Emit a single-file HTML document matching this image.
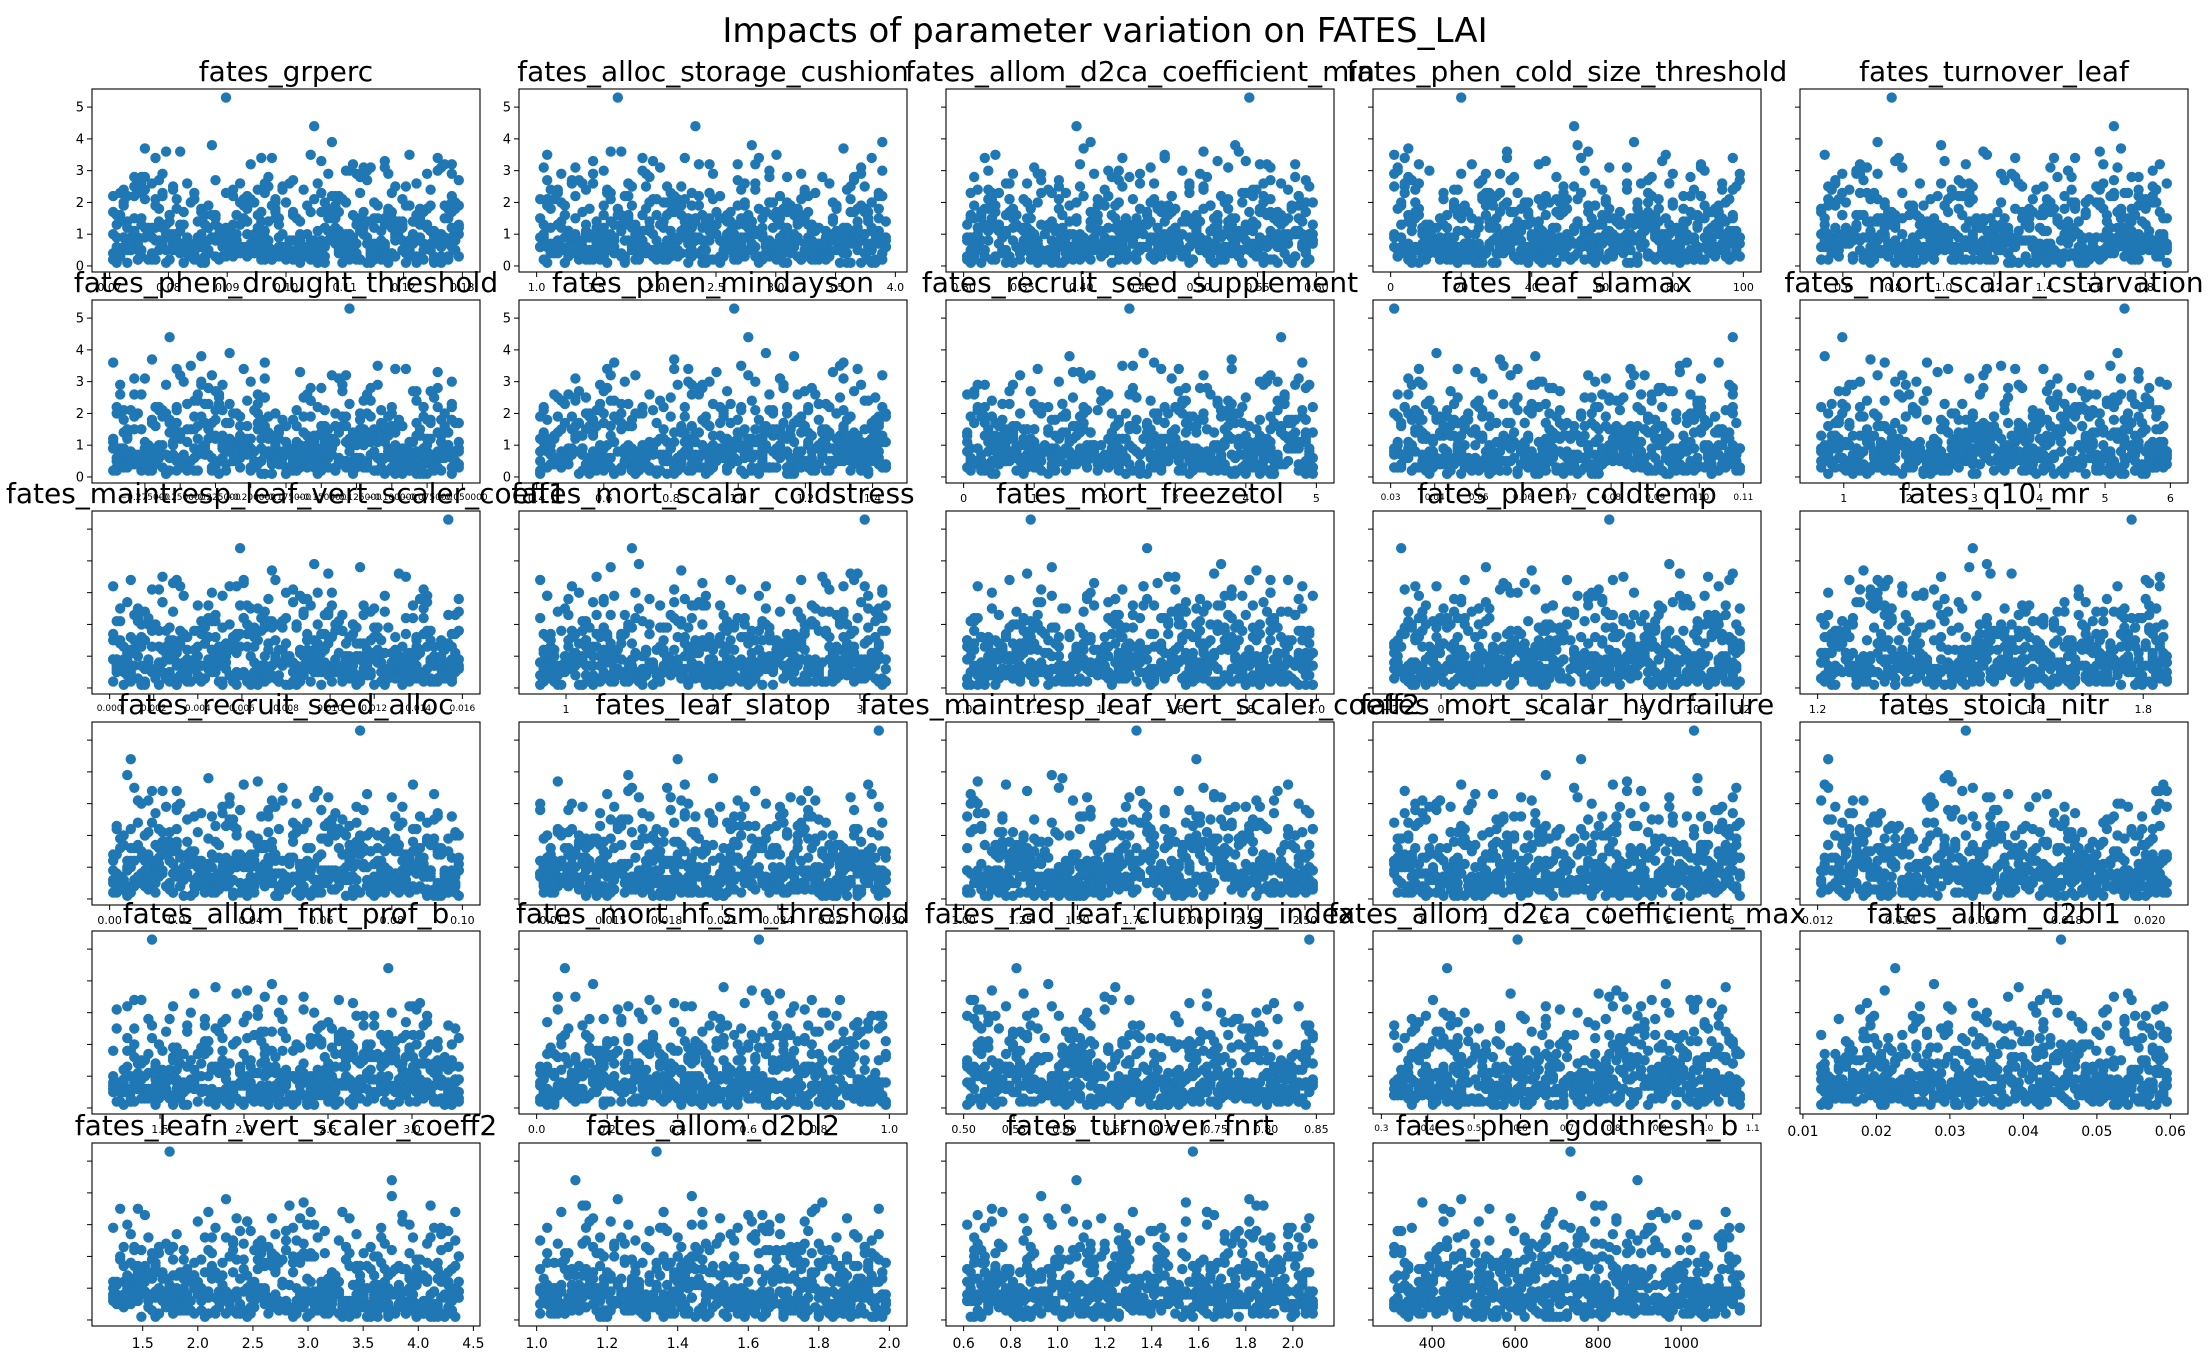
<!DOCTYPE html>
<html><head><meta charset="utf-8">
<style>
html,body{margin:0;padding:0;background:#fff;}
svg{display:block;font-family:"DejaVu Sans","Liberation Sans",sans-serif;}
</style></head>
<body>
<svg id="fig" width="2211" height="1355" viewBox="0 0 2211 1355" xmlns="http://www.w3.org/2000/svg">
<rect width="2211" height="1355" fill="#fff"/>
<text x="1105" y="42" font-size="34" text-anchor="middle" fill="#000">Impacts of parameter variation on FATES_LAI</text>
</svg>
<script>
// Shared LAI output values (y) for the ensemble members
const lai = [0.2,1.4,0.6,2.3,0.1,0.9,3.1,0.4,1.7,0.3,2.6,0.8,0.5,1.2,3.6,0.2,0.7,1.9,0.4,2.9,
0.1,1.1,0.6,0.3,2.1,1.5,0.5,3.4,0.9,0.2,1.8,0.7,0.4,2.5,0.3,1.3,0.6,3.9,0.8,0.2,
1.6,0.5,2.2,0.1,0.9,1.0,0.3,2.8,0.7,1.4,0.4,0.2,3.2,0.6,1.2,0.8,2.0,0.3,0.5,1.7,
5.3,0.2,1.1,0.7,2.4,0.4,0.9,3.0,0.1,1.5,0.6,0.3,2.7,1.0,0.5,0.8,1.9,0.2,3.5,0.4,
1.3,0.7,0.3,2.2,0.6,1.6,0.1,0.9,3.3,0.5,1.2,0.2,2.0,0.8,0.4,1.4,2.6,0.3,0.7,1.0,
4.4,0.5,1.8,0.2,0.6,2.3,0.9,0.3,1.1,3.7,0.4,0.7,1.5,0.2,2.9,0.5,0.8,1.3,0.1,2.1,
0.6,0.3,1.7,0.9,3.1,0.4,1.0,0.2,2.5,0.7,1.2,0.5,0.3,1.9,0.8,3.8,0.2,1.4,0.6,2.4,
0.4,1.1,0.1,0.7,2.7,0.3,1.6,0.9,0.5,3.4,0.2,1.3,0.8,2.1,0.4,0.6,1.0,3.0,0.3,1.8,
0.7,0.2,2.3,0.5,1.2,0.9,0.1,2.8,0.6,1.5,0.4,3.6,0.3,1.1,0.8,2.0,0.5,0.2,1.7,0.7,
1.4,0.3,2.6,0.6,0.9,0.2,3.2,1.0,0.4,1.3,0.5,2.2,0.8,0.1,1.6,0.3,2.9,0.7,1.2,0.4];
// Additional ensemble LAI values (mid-range members)
const laiB = [1.2,0.6,1.8,0.9,1.5,0.4,2.1,1.0,0.7,1.6,1.3,0.5,2.4,0.8,1.1,1.9,0.6,1.4,2.2,0.9,
0.5,1.7,1.2,0.8,2.0,1.0,0.6,1.5,2.6,0.7,1.3,0.9,1.8,0.4,1.1,2.3,0.8,1.6,1.0,0.5,
1.4,2.0,0.7,1.2,0.9,1.7,0.6,2.5,1.1,0.8,1.5,0.4,1.9,1.3,0.7,2.1,1.0,0.6,1.6,0.9,
1.2,0.5,2.2,0.8,1.4,1.0,0.7,1.8,2.7,0.6,1.1,1.5,0.9,2.0,0.5,1.3,0.8,1.7,1.0,2.4,
0.7,1.2,0.6,1.9,1.4,0.9,2.1,0.5,1.1,1.6,0.8,2.3,1.0,0.6,1.5,1.3,0.7,1.8,0.9,2.0,
1.1,0.5,1.7,1.4,0.8,2.6,1.0,0.6,1.2,1.9,0.9,0.7,1.5,2.2,0.5,1.3,1.0,1.8,0.8,1.6,
0.6,2.0,1.1,0.9,1.4,0.7,2.4,1.2,0.5,1.7,1.0,0.8,2.1,1.3,0.6,1.5,0.9,1.9,1.1,0.7,
1.6,0.5,2.3,1.0,0.8,1.4,1.2,0.6,1.8,2.5,0.9,1.1,0.7,1.5,1.3,0.5,2.0,1.0,0.8,1.7,
1.2,0.6,1.9,0.9,1.4,2.2,0.7,1.1,1.6,0.5,1.0,2.8,0.8,1.3,0.6,1.8,1.5,0.9,2.1,0.7,
1.1,1.4,0.5,2.0,1.0,0.8,1.6,1.2,0.6,2.4,0.9,1.3,0.7,1.7,1.0,0.5,1.9,1.2,0.8,1.5];
// Normalized parameter sample positions (0..1)
const samples = [0.12,0.87,0.45,0.03,0.66,0.31,0.94,0.58,0.21,0.77,0.09,0.52,0.38,0.83,0.16,0.71,0.27,0.99,0.44,0.62,
0.05,0.91,0.34,0.57,0.19,0.80,0.48,0.13,0.69,0.26,0.96,0.41,0.74,0.07,0.55,0.88,0.22,0.63,0.36,0.01,
0.79,0.47,0.15,0.92,0.29,0.68,0.53,0.10,0.84,0.39,0.60,0.24,0.97,0.43,0.72,0.06,0.50,0.86,0.18,0.65,
0.33,0.89,0.11,0.76,0.42,0.59,0.25,0.93,0.02,0.70,0.37,0.81,0.14,0.54,0.98,0.30,0.64,0.08,0.85,0.46,
0.20,0.73,0.56,0.35,0.90,0.17,0.61,0.04,0.78,0.49,0.28,0.95,0.40,0.67,0.12,0.82,0.51,0.23,0.75,0.32,
0.58,0.06,0.88,0.44,0.19,0.71,0.97,0.27,0.63,0.10,0.84,0.36,0.53,0.92,0.15,0.68,0.41,0.02,0.79,0.47,
0.26,0.94,0.60,0.08,0.74,0.33,0.86,0.50,0.18,0.66,0.99,0.39,0.55,0.13,0.81,0.29,0.70,0.45,0.04,0.91,
0.37,0.62,0.21,0.77,0.52,0.09,0.87,0.31,0.69,0.43,0.96,0.16,0.57,0.83,0.24,0.48,0.01,0.73,0.35,0.90,
0.64,0.11,0.80,0.42,0.28,0.93,0.54,0.07,0.76,0.38,0.85,0.20,0.61,0.98,0.32,0.67,0.14,0.46,0.89,0.25,
0.72,0.03,0.59,0.34,0.82,0.17,0.95,0.49,0.22,0.78,0.40,0.65,0.05,0.87,0.30,0.56,0.97,0.19,0.75,0.44];
// Panel parameter names
const params = ["fates_grperc","fates_alloc_storage_cushion","fates_allom_d2ca_coefficient_min","fates_phen_cold_size_threshold","fates_turnover_leaf",
"fates_phen_drought_threshold","fates_phen_mindayson","fates_recruit_seed_supplement","fates_leaf_slamax","fates_mort_scalar_cstarvation",
"fates_maintresp_leaf_vert_scaler_coeff1","fates_mort_scalar_coldstress","fates_mort_freezetol","fates_phen_coldtemp","fates_q10_mr",
"fates_recruit_seed_alloc","fates_leaf_slatop","fates_maintresp_leaf_vert_scaler_coeff2","fates_mort_scalar_hydrfailure","fates_stoich_nitr",
"fates_allom_fnrt_prof_b","fates_mort_hf_sm_threshold","fates_rad_leaf_clumping_index","fates_allom_d2ca_coefficient_max","fates_allom_d2bl1",
"fates_leafn_vert_scaler_coeff2","fates_allom_d2bl2","fates_turnover_fnrt","fates_phen_gddthresh_b"];
// Parameter ranges (min, max)
const paramMin = [0.07,1.0,0.3,0,0.5,-0.3,0.4,0,0.03,0.6,0.0,0.8,1.0,-2,1.2,0.0,0.011,1.0,0.5,0.012,1.2,0.0,0.5,0.32,0.012,1.2,1.0,0.6,300];
const paramMax = [0.13,3.95,0.6,100,1.9,-0.05,1.45,5,0.11,6,0.016,3.2,2.0,12,1.85,0.1,0.030,2.55,6.2,0.0205,3.3,1.0,0.85,1.08,0.06,4.4,2.0,2.1,1150];
// X tick values
const xTicks = [
[0.07,0.08,0.09,0.10,0.11,0.12,0.13],[1.0,1.5,2.0,2.5,3.0,3.5,4.0],[0.30,0.35,0.40,0.45,0.50,0.55,0.60],[0,20,40,60,80,100],[0.6,0.8,1.0,1.2,1.4,1.6,1.8],
[-0.275,-0.250,-0.225,-0.200,-0.175,-0.150,-0.125,-0.100,-0.075,-0.050],[0.4,0.6,0.8,1.0,1.2,1.4],[0,1,2,3,4,5],[0.03,0.04,0.05,0.06,0.07,0.08,0.09,0.10,0.11],[1,2,3,4,5,6],
[0.000,0.002,0.004,0.006,0.008,0.010,0.012,0.014,0.016],[1,2,3],[1.0,1.2,1.4,1.6,1.8,2.0],[-2,0,2,4,6,8,10,12],[1.2,1.4,1.6,1.8],
[0.00,0.02,0.04,0.06,0.08,0.10],[0.012,0.015,0.018,0.021,0.024,0.027,0.030],[1.00,1.25,1.50,1.75,2.00,2.25,2.50],[1,2,3,4,5,6],[0.012,0.014,0.016,0.018,0.020],
[1.5,2.0,2.5,3.0],[0.0,0.2,0.4,0.6,0.8,1.0],[0.50,0.55,0.60,0.65,0.70,0.75,0.80,0.85],[0.3,0.4,0.5,0.6,0.7,0.8,0.9,1.0,1.1],[0.01,0.02,0.03,0.04,0.05,0.06],
[1.5,2.0,2.5,3.0,3.5,4.0,4.5],[1.0,1.2,1.4,1.6,1.8,2.0],[0.6,0.8,1.0,1.2,1.4,1.6,1.8,2.0],[400,600,800,1000]];
// X tick label strings
const xTickLabels = [
["0.07","0.08","0.09","0.10","0.11","0.12","0.13"],["1.0","1.5","2.0","2.5","3.0","3.5","4.0"],["0.30","0.35","0.40","0.45","0.50","0.55","0.60"],["0","20","40","60","80","100"],["0.6","0.8","1.0","1.2","1.4","1.6","1.8"],
["−0.275000","−0.250000","−0.225000","−0.200000","−0.175000","−0.150000","−0.125000","−0.100000","−0.075000","−0.050000"],["0.4","0.6","0.8","1.0","1.2","1.4"],["0","1","2","3","4","5"],["0.03","0.04","0.05","0.06","0.07","0.08","0.09","0.10","0.11"],["1","2","3","4","5","6"],
["0.000","0.002","0.004","0.006","0.008","0.010","0.012","0.014","0.016"],["1","2","3"],["1.0","1.2","1.4","1.6","1.8","2.0"],["−2","0","2","4","6","8","10","12"],["1.2","1.4","1.6","1.8"],
["0.00","0.02","0.04","0.06","0.08","0.10"],["0.012","0.015","0.018","0.021","0.024","0.027","0.030"],["1.00","1.25","1.50","1.75","2.00","2.25","2.50"],["1","2","3","4","5","6"],["0.012","0.014","0.016","0.018","0.020"],
["1.5","2.0","2.5","3.0"],["0.0","0.2","0.4","0.6","0.8","1.0"],["0.50","0.55","0.60","0.65","0.70","0.75","0.80","0.85"],["0.3","0.4","0.5","0.6","0.7","0.8","0.9","1.0","1.1"],["0.01","0.02","0.03","0.04","0.05","0.06"],
["1.5","2.0","2.5","3.0","3.5","4.0","4.5"],["1.0","1.2","1.4","1.6","1.8","2.0"],["0.6","0.8","1.0","1.2","1.4","1.6","1.8","2.0"],["400","600","800","1000"]];
// Y ticks
const yTicks = [0,1,2,3,4,5];
const yLabelPanels = [0,1,5,6];
const bigTickPanels = [24,25,26,27,28];

const NS = "http://www.w3.org/2000/svg";
const svg = document.getElementById('fig');
const colLeft = [92,519,946,1373,1800];
const rowTop = [89,300,511,722,931,1143];
const AW = 388, AH = 183;
const Y0 = -0.19, Y1 = 5.57;
function mk(tag, attrs, parent){
  const e = document.createElementNS(NS, tag);
  for (const k in attrs) e.setAttribute(k, attrs[k]);
  (parent||svg).appendChild(e);
  return e;
}
params.forEach((name, p) => {
  const c = p % 5, r = Math.floor(p / 5);
  const L = colLeft[c], T = rowTop[r];
  const g = mk('g', {});
  
  
  const mn = paramMin[p], mx = paramMax[p], pad = (mx - mn) * 0.05;
  const xs = v => L + (v - (mn - pad)) / ((mx + pad) - (mn - pad)) * AW;
  const ys = v => T + AH - (v - Y0) / (Y1 - Y0) * AH;
  const pts = mk('g', {fill:'#1f77b4'}, g);
  
  
  const n = lai.length;
  for (let pass = 0; pass < 3; pass++) {
    for (let i = 0; i < n; i++) {
      let j, yv;
      if (pass === 0) { j = (i + p * 37) % n; yv = lai[i]; }
      else if (pass === 1) { j = (i * 7 + p * 13 + 5) % n; yv = laiB[i]; }
      else { j = (i * 11 + p * 29 + 3) % n; yv = lai[(i * 3 + 1) % n]; if (yv > 3.5) continue; }
      const xv = mn + samples[j] * (mx - mn);
      const dot = mk('circle', {cx: xs(xv).toFixed(1), cy: ys(yv).toFixed(1), r: 5.2}, pts);
      
      
    }
  }
  const fr = mk('rect', {x:L, y:T, width:AW, height:AH, fill:'none', stroke:'#000', 'stroke-width':1.1}, g);
  
  
  const t = mk('text', {x: L + AW/2, y: T - 8, 'font-size': 28, 'text-anchor':'middle', fill:'#000'}, g);
  t.textContent = name;
  
  
  const showY = yLabelPanels.indexOf(p) >= 0;
  yTicks.forEach(v => {
    const y = ys(v);
    mk('line', {x1:L-5, x2:L, y1:y, y2:y, stroke:'#000', 'stroke-width':1}, g);
    if (showY) {
      const tl = mk('text', {x:L-8, y:y+4.5, 'font-size':13, 'text-anchor':'end', fill:'#000'}, g);
      tl.textContent = String(v);
      
      
    }
  });
  const big = bigTickPanels.indexOf(p) >= 0;
  const fs = big ? 14 : (xTickLabels[p].length > 8 || xTickLabels[p][0].length > 5 ? 9 : 11);
  xTicks[p].forEach((v, k) => {
    const x = xs(v);
    if (x < L - 1 || x > L + AW + 1) return;
    mk('line', {x1:x, x2:x, y1:T+AH, y2:T+AH+5, stroke:'#000', 'stroke-width':1}, g);
    const tl = mk('text', {x:x, y:T+AH+8+fs, 'font-size':fs, 'text-anchor':'middle', fill:'#000'}, g);
    tl.textContent = xTickLabels[p][k];
    
    
  });
});
</script>
</body></html>
